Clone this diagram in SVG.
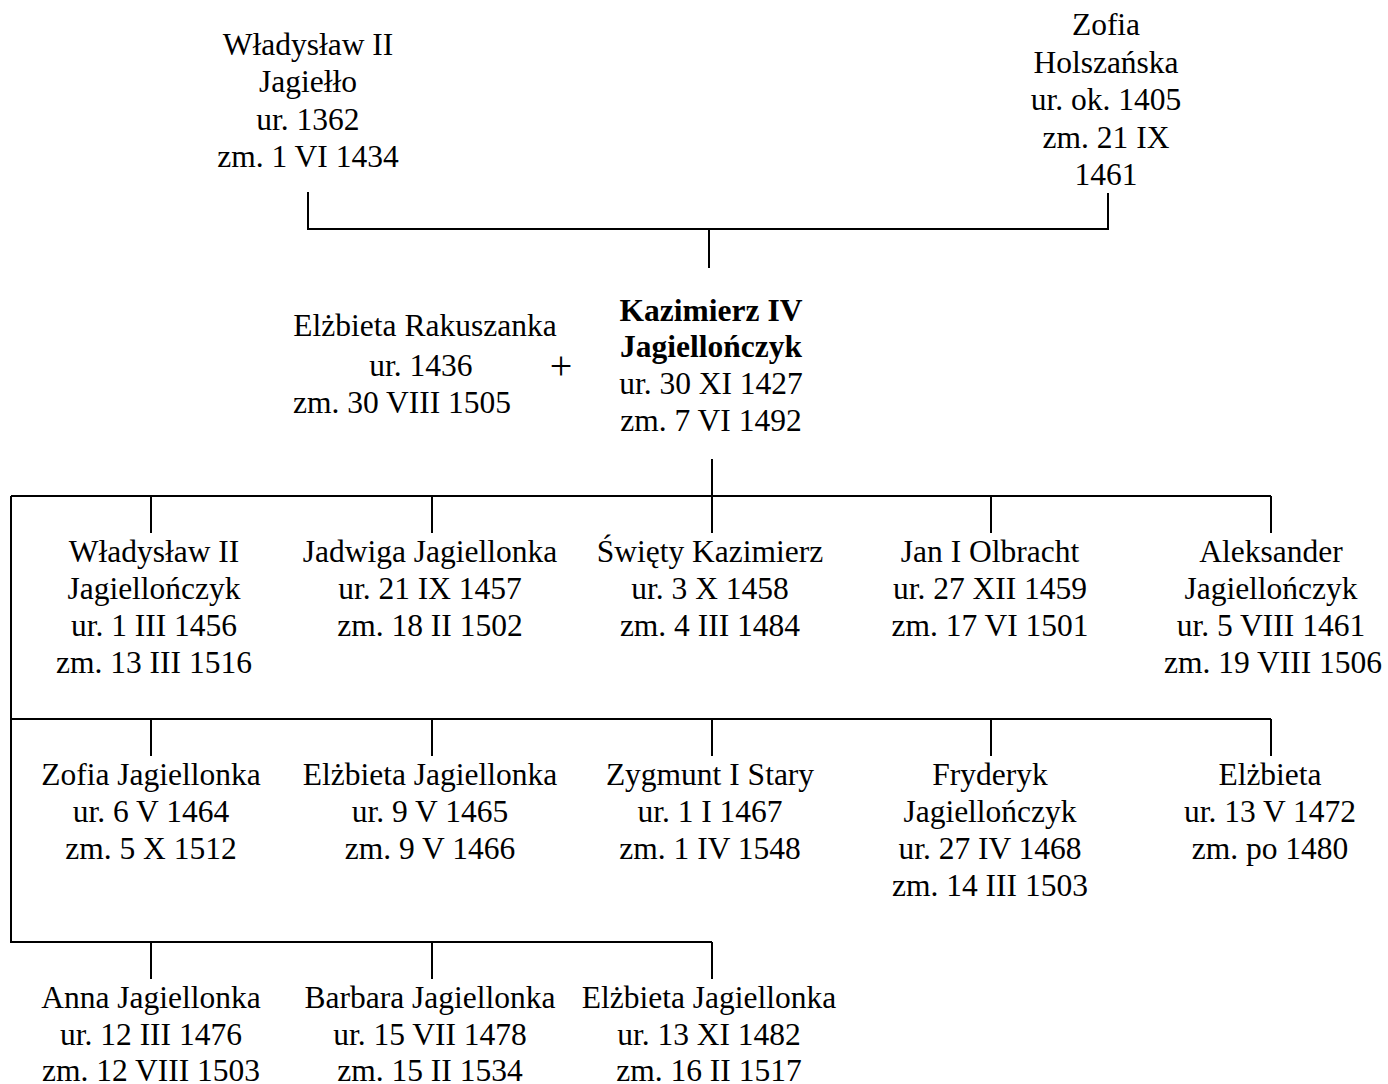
<svg xmlns="http://www.w3.org/2000/svg" width="1388" height="1084" viewBox="0 0 1388 1084">
<style>
text{font-family:"Liberation Serif","Times New Roman",serif;font-size:31.5px;fill:#000;text-anchor:middle}
.b{font-weight:bold}
.p{font-size:40px}
.l{stroke:#000;stroke-width:2;fill:none}
</style>
<rect width="1388" height="1084" fill="#fff"/>
<g id="connectors">
<path class="l" d="M308 192V229H1108V193M709 229V268"/>
<path class="l" d="M712 459V496M11 496H1271M11 496V942H712M11 719H1271"/>
<path class="l" d="M151 496V533M432 496V533M712 496V533M991 496V533M1271 496V533"/>
<path class="l" d="M151 719V756M432 719V756M712 719V756M991 719V756M1271 719V756"/>
<path class="l" d="M151 942V979M432 942V979M712 942V979"/>
</g>
<g id="wladyslaw-jagiello"><text x="308" y="55">Władysław II</text><text x="308" y="92">Jagiełło</text><text x="308" y="130">ur. 1362</text><text x="308" y="167">zm. 1 VI 1434</text></g>
<g id="zofia-holszanska"><text x="1106" y="35">Zofia</text><text x="1106" y="73">Holszańska</text><text x="1106" y="110">ur. ok. 1405</text><text x="1106" y="148">zm. 21 IX</text><text x="1106" y="185">1461</text></g>
<g id="elzbieta-rakuszanka"><text x="425" y="336">Elżbieta Rakuszanka</text><text x="421" y="376">ur. 1436</text><text x="402" y="413">zm. 30 VIII 1505</text></g>
<g id="plus"><text class="p" x="561" y="379">+</text></g>
<g id="kazimierz-iv"><text class="b" x="711" y="321">Kazimierz IV</text><text class="b" x="711" y="357">Jagiellończyk</text><text x="711" y="394">ur. 30 XI 1427</text><text x="711" y="431">zm. 7 VI 1492</text></g>
<g id="wladyslaw-jagiellonczyk"><text x="154" y="562">Władysław II</text><text x="154" y="599">Jagiellończyk</text><text x="154" y="636">ur. 1 III 1456</text><text x="154" y="673">zm. 13 III 1516</text></g>
<g id="jadwiga"><text x="430" y="562">Jadwiga Jagiellonka</text><text x="430" y="599">ur. 21 IX 1457</text><text x="430" y="636">zm. 18 II 1502</text></g>
<g id="swiety-kazimierz"><text x="710" y="562">Święty Kazimierz</text><text x="710" y="599">ur. 3 X 1458</text><text x="710" y="636">zm. 4 III 1484</text></g>
<g id="jan-olbracht"><text x="990" y="562">Jan I Olbracht</text><text x="990" y="599">ur. 27 XII 1459</text><text x="990" y="636">zm. 17 VI 1501</text></g>
<g id="aleksander"><text x="1271" y="562">Aleksander</text><text x="1271" y="599">Jagiellończyk</text><text x="1271" y="636">ur. 5 VIII 1461</text><text x="1273" y="673">zm. 19 VIII 1506</text></g>
<g id="zofia-jagiellonka"><text x="151" y="785">Zofia Jagiellonka</text><text x="151" y="822">ur. 6 V 1464</text><text x="151" y="859">zm. 5 X 1512</text></g>
<g id="elzbieta-1465"><text x="430" y="785">Elżbieta Jagiellonka</text><text x="430" y="822">ur. 9 V 1465</text><text x="430" y="859">zm. 9 V 1466</text></g>
<g id="zygmunt"><text x="710" y="785">Zygmunt I Stary</text><text x="710" y="822">ur. 1 I 1467</text><text x="710" y="859">zm. 1 IV 1548</text></g>
<g id="fryderyk"><text x="990" y="785">Fryderyk</text><text x="990" y="822">Jagiellończyk</text><text x="990" y="859">ur. 27 IV 1468</text><text x="990" y="896">zm. 14 III 1503</text></g>
<g id="elzbieta-1472"><text x="1270" y="785">Elżbieta</text><text x="1270" y="822">ur. 13 V 1472</text><text x="1270" y="859">zm. po 1480</text></g>
<g id="anna"><text x="151" y="1008">Anna Jagiellonka</text><text x="151" y="1045">ur. 12 III 1476</text><text x="151" y="1081">zm. 12 VIII 1503</text></g>
<g id="barbara"><text x="430" y="1008">Barbara Jagiellonka</text><text x="430" y="1045">ur. 15 VII 1478</text><text x="430" y="1081">zm. 15 II 1534</text></g>
<g id="elzbieta-1482"><text x="709" y="1008">Elżbieta Jagiellonka</text><text x="709" y="1045">ur. 13 XI 1482</text><text x="709" y="1081">zm. 16 II 1517</text></g>
</svg>
